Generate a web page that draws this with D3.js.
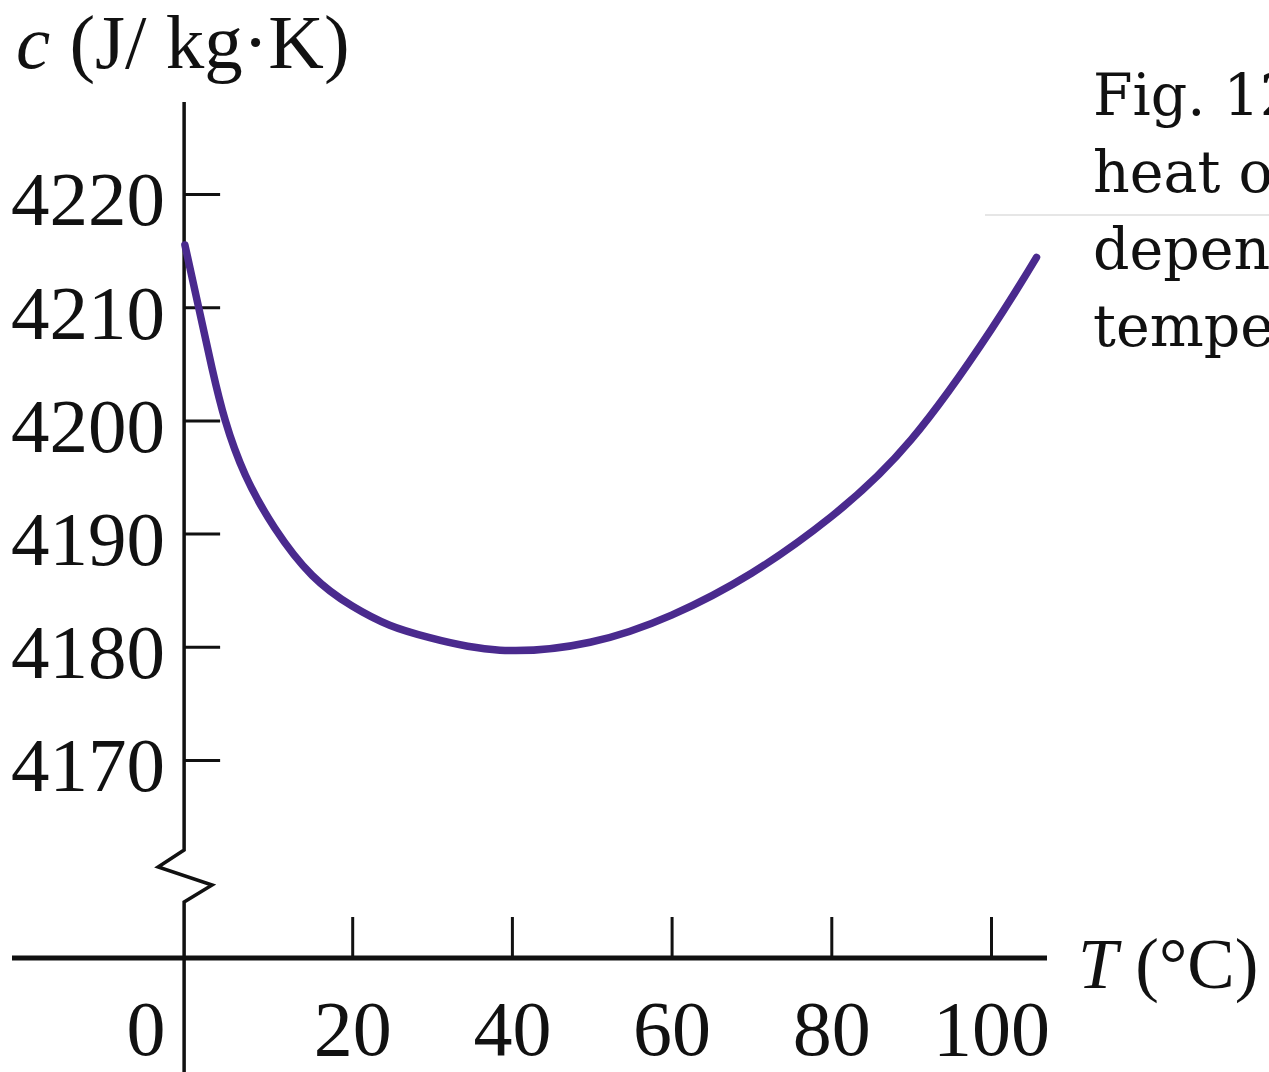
<!DOCTYPE html>
<html>
<head>
<meta charset="utf-8">
<title>Specific heat of water</title>
<script src="https://d3js.org/d3.v7.min.js"></script>
<style>
  body { margin: 0; background: #fff; }
  svg { display: block; }
  text { font-family: "Liberation Serif", "Times New Roman", serif; fill: #111; }
  .note { font-family: "DejaVu Serif", serif; }
</style>
</head>
<body>
<svg width="1269" height="1072"></svg>

<script>
// values
var temps = [-0.95, 0.95, 2.45, 4.1, 6.6, 10.3, 15, 20, 24.7, 29.7, 38.5, 49.8, 60, 70, 80, 90, 100, 105.7];
var heat  = [4215.5, 4209.4, 4204.6, 4200, 4195.2, 4190.5, 4186.3, 4183.6, 4181.9, 4180.8, 4179.7, 4180.4, 4182.8, 4186.5, 4191.5, 4198.3, 4208, 4214.4];
var xTicks = [0, 20, 40, 60, 80, 100];
var yTicks = [4170, 4180, 4190, 4200, 4210, 4220];
// caption as far as it is visible before the right edge
var noteLines = ["Fig. 12", "heat o", "depen", "tempe"];

var svg = d3.select("svg");

var x = d3.scaleLinear().domain([0, 100]).range([192.5, 991]);
var y = d3.scaleLinear().domain([4170, 4220]).range([760, 194]);
var yAxisT = -1.05; // vertical axis sits a touch left of T = 0

var ax = x(yAxisT);
var x0 = 958;

// x axis: ticks pointing up, labels underneath
var gx = svg.append("g")
  .attr("transform", "translate(0," + x0 + ")")
  .call(d3.axisBottom(x)
          .tickValues(xTicks)
          .tickFormat(d3.format("d"))
          .tickSizeInner(-41)
          .tickSizeOuter(0)
          .tickPadding(42));
gx.select(".domain").remove();
gx.selectAll(".tick line").attr("stroke", "#111").attr("stroke-width", 3);
gx.selectAll(".tick text").style("font-size", "78px").attr("fill", "#111");
gx.selectAll(".tick").filter(function(d) { return d === 0; })
  .each(function() {
    d3.select(this).select("line").remove();
    d3.select(this).select("text").attr("x", -47);
  });

// y axis: ticks pointing right, labels on the left
var gy = svg.append("g")
  .attr("transform", "translate(" + ax + ",0)")
  .call(d3.axisLeft(y)
          .tickValues(yTicks)
          .tickFormat(d3.format("d"))
          .tickSizeInner(-36)
          .tickSizeOuter(0)
          .tickPadding(19));
gy.select(".domain").remove();
gy.selectAll(".tick line").attr("stroke", "#111").attr("stroke-width", 3);
gy.selectAll(".tick text").style("font-size", "77px").attr("dy", "0.4em").attr("fill", "#111");

// axis lines
svg.append("line")
  .attr("x1", 12).attr("x2", 1047)
  .attr("y1", x0).attr("y2", x0)
  .attr("stroke", "#111").attr("stroke-width", 5);

svg.append("path")
  .attr("d", "M" + ax + ",102 V850 L" + (ax - 26) + ",867 L" + (ax + 28) + ",885 L" + ax + ",902 V1072")
  .attr("fill", "none")
  .attr("stroke", "#111")
  .attr("stroke-width", 3.5)
  .attr("stroke-linejoin", "miter");

// the curve
var line = d3.line()
  .x(function(d) { return x(d[0]); })
  .y(function(d) { return y(d[1]); })
  .curve(d3.curveNatural);

svg.append("path")
  .datum(d3.zip(temps, heat))
  .attr("d", line)
  .attr("fill", "none")
  .attr("stroke", "#4a2a8e")
  .attr("stroke-width", 7.5)
  .attr("stroke-linecap", "round");

// axis titles
var yt = svg.append("text").attr("x", 16).attr("y", 68).style("font-size", "77px");
yt.append("tspan").style("font-style", "italic").text("c");
yt.append("tspan").text(" (J/ kg\u00b7K)");

var xt = svg.append("text").attr("x", 1078).attr("y", 988).style("font-size", "71px");
xt.append("tspan").style("font-style", "italic").text("T");
xt.append("tspan").text(" (\u00b0C)");

// caption cut off at the right edge
svg.append("line")
  .attr("x1", 985).attr("x2", 1269)
  .attr("y1", 215).attr("y2", 215)
  .attr("stroke", "#e6e6e6").attr("stroke-width", 2);

svg.append("g")
  .selectAll("text")
  .data(noteLines)
  .enter().append("text")
  .attr("class", "note")
  .attr("x", 1093)
  .attr("y", function(d, i) { return 115 + i * 77; })
  .style("font-size", "57px")
  .text(function(d) { return d; });
</script>
</body>
</html>
